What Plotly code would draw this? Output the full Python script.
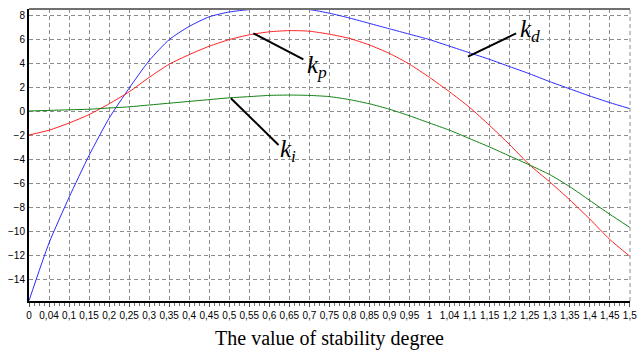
import plotly.graph_objects as go

# x positions (stability degree)
x_vals = [round(i * 0.05, 2) for i in range(31)]
x_tick_labels = ["0", "0,04", "0,1", "0,15", "0,2", "0,25", "0,3", "0,35", "0,4", "0,45",
                 "0,5", "0,55", "0,6", "0,65", "0,7", "0,75", "0,8", "0,85", "0,9", "0,95",
                 "1", "1,04", "1,1", "1,15", "1,2", "1,25", "1,3", "1,35", "1,4", "1,45", "1,5"]
y_tick_vals = [8, 6, 4, 2, 0, -2, -4, -6, -8, -10, -12, -14]

kd = [-15.8, -11.0, -7.2, -3.7, -0.6, 1.9, 4.2, 5.95, 7.05, 7.85, 8.25, 8.45, 8.5, 8.5, 8.45, 8.15,
      7.75, 7.3, 6.85, 6.4, 5.95, 5.4, 4.85, 4.3, 3.7, 3.1, 2.45, 1.85, 1.25, 0.7, 0.2]
kp = [-2.0, -1.6, -1.0, -0.3, 0.6, 1.6, 2.8, 3.9, 4.7, 5.4, 5.95, 6.35, 6.6, 6.7, 6.65, 6.4,
      6.05, 5.5, 4.8, 3.9, 2.8, 1.6, 0.3, -1.2, -2.8, -4.5, -5.9, -7.4, -9.0, -10.7, -12.1]
ki = [0.0, 0.05, 0.1, 0.15, 0.25, 0.35, 0.5, 0.65, 0.8, 0.95, 1.1, 1.2, 1.3, 1.33, 1.3, 1.2,
      0.95, 0.6, 0.15, -0.4, -1.0, -1.6, -2.3, -3.0, -3.75, -4.5, -5.3, -6.3, -7.45, -8.6, -9.7]

fig = go.Figure()
fig.add_trace(go.Scatter(x=x_vals, y=kd, mode="lines", line=dict(color="#2a2aff", width=1, shape="spline", smoothing=0.6)))
fig.add_trace(go.Scatter(x=x_vals, y=kp, mode="lines", line=dict(color="#ff2020", width=1, shape="spline", smoothing=0.6)))
fig.add_trace(go.Scatter(x=x_vals, y=ki, mode="lines", line=dict(color="#108010", width=1, shape="spline", smoothing=0.6)))

# pointer lines
pointers = [((0.56, 6.47), (0.685, 4.3)),
            ((1.096, 4.53), (1.216, 6.47)),
            ((0.504, 1.06), (0.623, -2.83))]
for (x0, y0), (x1, y1) in pointers:
    fig.add_shape(type="line", x0=x0, y0=y0, x1=x1, y1=y1, xref="x", yref="y",
                  line=dict(color="black", width=2))

labels = [(0.72, 3.75, "<i>k</i><sub><i>p</i></sub>"),
          (1.25, 6.7, "<i>k</i><sub><i>d</i></sub>"),
          (0.647, -3.25, "<i>k</i><sub><i>i</i></sub>")]
for x, y, t in labels:
    fig.add_annotation(x=x, y=y, text=t, showarrow=False, xref="x", yref="y",
                       font=dict(family="Liberation Serif, Times New Roman, serif", size=25, color="black"))

# top / right border
fig.add_shape(type="line", xref="paper", yref="paper", x0=0, x1=1, y0=1, y1=1,
              line=dict(color="#707070", width=2))
fig.add_shape(type="line", xref="paper", yref="paper", x0=1, x1=1, y0=0, y1=1,
              line=dict(color="#8c8c8c", width=1, dash="4px,3px"))

fig.update_xaxes(range=[0, 1.5005], tickmode="array", tickvals=x_vals, ticktext=x_tick_labels,
                 tickangle=0, showgrid=True, gridcolor="#8c8c8c", griddash="4px,3px", gridwidth=1,
                 showline=True, linecolor="black", linewidth=2, ticks="outside", ticklen=4,
                 tickcolor="#555", zeroline=False, ticklabeloverflow="allow",
                 minor=dict(dtick=0.0125, tick0=0, ticks="outside", ticklen=3, tickcolor="#777", showgrid=False),
                 tickfont=dict(family="Liberation Sans Narrow, Arial Narrow, Liberation Sans, Arial", size=10, color="black"),
                 title=dict(text="The value of stability degree", standoff=11,
                            font=dict(family="Liberation Serif, Times New Roman, serif", size=20, color="black")))
fig.update_yaxes(range=[-15.83, 8.5], tickmode="array", tickvals=y_tick_vals,
                 showgrid=True, gridcolor="#8c8c8c", griddash="4px,3px", gridwidth=1,
                 showline=True, linecolor="black", linewidth=2, ticks="", zeroline=False,
                 tickfont=dict(family="Liberation Sans Narrow, Arial Narrow, Liberation Sans, Arial", size=10, color="black"))

fig.update_layout(width=643, height=352, margin=dict(l=29, r=6, t=9, b=51),
                  plot_bgcolor="white", paper_bgcolor="white", showlegend=False)

fig.write_html("out.html")
